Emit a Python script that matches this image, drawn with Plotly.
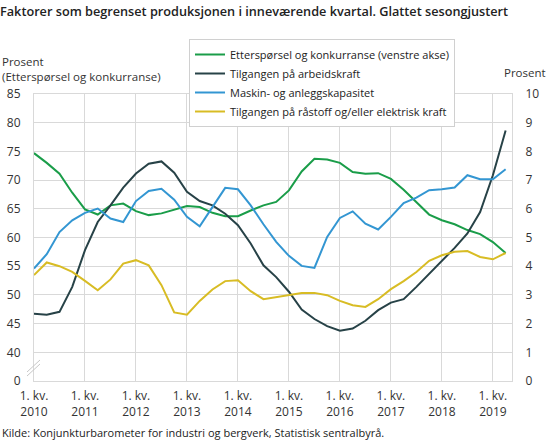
"""
Faktorer som begrenset produksjonen, glattet sesongjustert (Konjunkturbarometeret)
"""
import plotly.graph_objects as go

# kvartaler fra 1. kv. 2010 til 2. kv. 2019 (indeks 0..37)
kvartal = list(range(38))
aar_ticks = [0, 4, 8, 12, 16, 20, 24, 28, 32, 36]
aar_tekst = ['1. kv.<br>' + str(a) for a in range(2010, 2020)]

# venstre akse (prosent)
ettersporsel = [74.7, 73.0, 71.1, 67.8, 64.9, 64.0, 65.6, 65.9, 64.6, 63.9,
                64.2, 64.9, 65.5, 65.3, 64.3, 63.7, 63.7, 64.7, 65.6, 66.2,
                68.2, 71.5, 73.7, 73.6, 73.0, 71.4, 71.1, 71.2, 70.2, 68.3,
                66.2, 64.0, 63.0, 62.3, 61.3, 60.6, 59.2, 57.3]

# hoyre akse (prosent)
arbeidskraft = [2.34, 2.31, 2.41, 3.28, 4.56, 5.54, 6.12, 6.74, 7.23, 7.57,
                7.65, 7.26, 6.59, 6.27, 6.12, 5.83, 5.43, 4.79, 4.03, 3.62,
                3.11, 2.49, 2.16, 1.91, 1.75, 1.83, 2.10, 2.47, 2.73, 2.85,
                3.28, 3.74, 4.19, 4.64, 5.14, 5.89, 7.17, 8.73]
kapasitet = [3.92, 4.42, 5.19, 5.60, 5.86, 6.01, 5.66, 5.54, 6.27, 6.62,
             6.70, 6.32, 5.72, 5.39, 6.06, 6.73, 6.68, 6.12, 5.46, 4.85,
             4.36, 4.01, 3.94, 5.02, 5.68, 5.91, 5.48, 5.28, 5.72, 6.20,
             6.39, 6.65, 6.68, 6.74, 7.17, 7.03, 7.03, 7.38]
rastoff = [3.69, 4.13, 4.00, 3.80, 3.49, 3.16, 3.54, 4.09, 4.21, 4.03,
           3.34, 2.39, 2.31, 2.79, 3.19, 3.48, 3.51, 3.13, 2.85, 2.93,
           3.01, 3.07, 3.07, 2.99, 2.79, 2.64, 2.58, 2.85, 3.20, 3.48,
           3.80, 4.19, 4.38, 4.50, 4.53, 4.32, 4.24, 4.46]

venstre_ticks = [35, 40, 45, 50, 55, 60, 65, 70, 75, 80, 85]
venstre_tekst = ['0', '40', '45', '50', '55', '60', '65', '70', '75', '80', '85']
hoyre_ticks = list(range(11))

FONT = 'Open Sans'
GRID = '#d9d9d9'
TEKST = '#333333'

fig = go.Figure()
fig.add_trace(go.Scatter(x=kvartal, y=ettersporsel, mode='lines', yaxis='y',
                         name='Etterspørsel og konkurranse (venstre akse)',
                         line=dict(color='#1a9d49', width=2)))
fig.add_trace(go.Scatter(x=kvartal, y=arbeidskraft, mode='lines', yaxis='y2',
                         name='Tilgangen på arbeidskraft',
                         line=dict(color='#274247', width=2)))
fig.add_trace(go.Scatter(x=kvartal, y=kapasitet, mode='lines', yaxis='y2',
                         name='Maskin- og anleggskapasitet',
                         line=dict(color='#3396d2', width=2)))
fig.add_trace(go.Scatter(x=kvartal, y=rastoff, mode='lines', yaxis='y2',
                         name='Tilgangen på råstoff og/eller elektrisk kraft',
                         line=dict(color='#d8bc24', width=2)))

fig.update_layout(
    width=548, height=440,
    margin=dict(l=34, r=36, t=94, b=59, autoexpand=False),
    paper_bgcolor='white', plot_bgcolor='white',
    font=dict(family=FONT, size=12, color=TEKST),
    title=dict(text='Faktorer som begrenset produksjonen i inneværende kvartal. Glattet sesongjustert',
               x=0.0, xref='container', xanchor='left',
               y=1 - 12 / 440, yanchor='middle',
               font=dict(family=FONT, size=12.7, color='#222222', weight=600)),
    xaxis=dict(range=[0, 37.5], tickvals=aar_ticks, ticktext=aar_tekst,
               showgrid=True, gridcolor=GRID, gridwidth=1,
               showline=True, linecolor=GRID, mirror=True,
               ticks='', ticklabelstandoff=4, zeroline=False,
               tickfont=dict(size=12, color=TEKST)),
    yaxis=dict(range=[35, 85], tickvals=venstre_ticks, ticktext=venstre_tekst,
               showgrid=True, gridcolor=GRID, zeroline=False,
               showline=True, linecolor=GRID,
               ticks='', ticklabelstandoff=10,
               tickfont=dict(size=12, color=TEKST)),
    yaxis2=dict(range=[0, 10], tickvals=hoyre_ticks, overlaying='y', side='right',
                showgrid=False, zeroline=False,
                showline=True, linecolor=GRID,
                ticks='', ticklabelstandoff=10,
                tickfont=dict(size=12, color=TEKST)),
    legend=dict(x=(189 - 34) / 478, y=(381 - 39) / 287, xanchor='left', yanchor='top',
                bgcolor='white', bordercolor='#d0d0d0', borderwidth=1,
                itemwidth=30, font=dict(size=11, color='#222222'), tracegroupgap=0),
    showlegend=True,
)

# akseteksterne tekster
fig.add_annotation(text='Prosent<br>(Etterspørsel og konkurranse)', xref='paper', yref='paper',
                   x=-34 / 478, y=(381 - 69) / 287, xanchor='left', yanchor='middle',
                   align='left', showarrow=False, font=dict(size=11.5, color=TEKST))
fig.add_annotation(text='Prosent', xref='paper', yref='paper',
                   x=(548 - 34) / 478, y=(381 - 73) / 287, xanchor='right', yanchor='middle',
                   showarrow=False, font=dict(size=11.5, color=TEKST))
fig.add_annotation(text='Kilde: Konjunkturbarometer for industri og bergverk, Statistisk sentralbyrå.',
                   xref='paper', yref='paper', x=-34 / 478, y=(381 - 432) / 287,
                   xanchor='left', yanchor='middle', showarrow=False,
                   font=dict(size=11, color='#222222'))

# brudd i venstre akse
for d in [0, 4]:
    fig.add_shape(type='line', xref='paper', yref='paper',
                  x0=(27 - 34) / 478, x1=(40 - 34) / 478,
                  y0=(381 - 372 - d) / 287, y1=(381 - 360 - d) / 287,
                  line=dict(color='#c8c8c8', width=1))

# siden har 8px marg i body som standard, fjern den
fig.write_html("out.html", config={'displayModeBar': False},
               post_script="document.body.style.margin='0';")
